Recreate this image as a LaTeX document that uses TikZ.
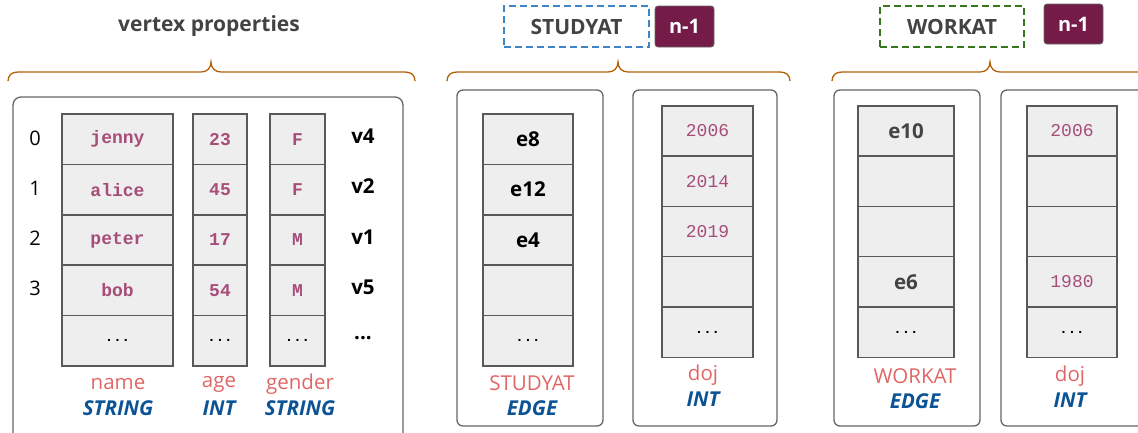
\documentclass[tikz,border=0pt]{standalone}
\usepackage{fontspec}
\setmainfont{Open Sans}
\setmonofont{Liberation Mono}
\definecolor{bracecol}{HTML}{B45F06}
\definecolor{boxline}{HTML}{666666}
\definecolor{cellline}{HTML}{595959}
\definecolor{cellfill}{HTML}{EEEEEE}
\definecolor{valcol}{HTML}{A64D79}
\definecolor{labcol}{HTML}{E06666}
\definecolor{typecol}{HTML}{0B5394}
\definecolor{headcol}{HTML}{434343}
\definecolor{ncol}{HTML}{741B47}
\definecolor{bluedash}{HTML}{3D85C6}
\definecolor{greendash}{HTML}{38761D}
\newcommand\mybrace[3]{%
  \draw[bracestyle] (#1,81) .. controls (#1,75) and (#1+4,72) .. (#1+10,72) -- (#2-10,72)
    .. controls (#2-4,72) and (#2,68) .. (#2,62)
    .. controls (#2,68) and (#2+4,72) .. (#2+10,72) -- (#3-10,72)
    .. controls (#3-4,72) and (#3,75) .. (#3,81);}
\newcommand\celldots{{\ttfamily\bfseries\fontsize{14}{14}\selectfont ...}}
\begin{document}
\begin{tikzpicture}[x=1pt,y=-1pt,
  bracestyle/.style={draw=bracecol, line width=1.3pt},
  outerbox/.style={draw=boxline, line width=1.3pt, rounded corners=6pt, inner sep=0pt},
  cell/.style={draw=cellline, fill=cellfill, line width=1.5pt, minimum height=50.4pt, inner sep=0pt},
  cellb/.style={cell, minimum height=50.3pt},
  val/.style={font=\fontsize{18}{20}\selectfont\ttfamily\bfseries, text=valcol},
  valr/.style={font=\fontsize{18}{20}\selectfont\ttfamily, text=valcol},
  idx/.style={font=\fontsize{20}{22}\selectfont, text=black},
  vid/.style={font=\fontsize{20.5}{22}\selectfont\bfseries, text=black},
  lab/.style={font=\fontsize{20.5}{22}\selectfont, text=labcol},
  typ/.style={font=\fontsize{20.5}{22}\selectfont\bfseries\itshape, text=typecol},
  head/.style={font=\fontsize{21}{22}\selectfont\bfseries, text=headcol},
  dashbox/.style={line width=1.3pt, dash pattern=on 7pt off 4pt, minimum width=145pt, minimum height=41pt, inner sep=0pt},
  nbox/.style={fill=ncol, draw=boxline, line width=0.8pt, rounded corners=3pt, minimum width=59pt, minimum height=41pt, inner sep=0pt, text=white, font=\fontsize{20}{22}\selectfont\bfseries},
]
\useasboundingbox (0,0) rectangle (1138,432);
\clip (0,0) rectangle (1138,432);

% ---------- vertex properties ----------
\node[head] (vhead) at (209,26) {vertex properties};
\mybrace{8}{211}{415}
\node[outerbox, rounded corners=8pt, minimum width=390pt, minimum height=348pt] (vbox) at (208,271) {};

\foreach \t [count=\i from 0] in {jenny,alice,peter,bob}
  \node[cell, minimum width=111pt, val] (name\i) at (117.5,{139.2+50.4*\i}) {\t};
\node[cell, minimum width=111pt] (name4) at (117.5,340.8) {\celldots};
\foreach \t [count=\i from 0] in {23,45,17,54}
  \node[cell, minimum width=54pt, val] (age\i) at (220,{139.2+50.4*\i}) {\t};
\node[cell, minimum width=54pt] (age4) at (220,340.8) {\celldots};
\foreach \t [count=\i from 0] in {F,F,M,M}
  \node[cell, minimum width=55pt, val] (gen\i) at (297.5,{139.2+50.4*\i}) {\t};
\node[cell, minimum width=55pt] (gen4) at (297.5,340.8) {\celldots};

\foreach \t [count=\i from 0] in {0,1,2,3}
  \node[idx] (ix\i) at (35,{138+50*\i}) {\t};
\foreach \t [count=\i from 0] in {v4,v2,v1,v5}
  \node[vid] (vid\i) at (363,{136+50.4*\i}) {\t};
\node[vid] (vid4) at (363,338) {...};

\node[lab] (lname) at (118,384) {name};
\node[typ] (tname) at (118,408) {STRING};
\node[lab] (lage) at (219,384) {age};
\node[typ] (tage) at (219,408) {INT};
\node[lab] (lgen) at (300,384) {gender};
\node[typ] (tgen) at (300,408) {STRING};

% ---------- STUDYAT ----------
\node[dashbox, draw=bluedash, head] (shead) at (576.5,26.5) {STUDYAT};
\node[nbox] (sn) at (684.5,26.5) {n-1};
\mybrace{447}{618}{790}
\node[outerbox, minimum width=146pt, minimum height=336pt] (sbox1) at (530,258) {};
\node[outerbox, minimum width=144pt, minimum height=336pt] (sbox2) at (705,258) {};

\foreach \t [count=\i from 0] in {e8,e12,e4,{}}
  \node[cell, minimum width=90pt, vid] (se\i) at (528,{139.2+50.4*\i}) {\t};
\node[cell, minimum width=90pt] (se4) at (528,340.8) {\celldots};
\foreach \t [count=\i from 0] in {2006,2014,2019,{}}
  \node[cellb, minimum width=91pt, valr] (sd\i) at (707.5,{130.9+50.3*\i}) {\t};
\node[cellb, minimum width=91pt] (sd4) at (707.5,332.1) {\celldots};

\node[lab] (lse) at (532,383) {STUDYAT};
\node[typ] (tse) at (532,408) {EDGE};
\node[lab] (lsd) at (703,375) {doj};
\node[typ] (tsd) at (703,399) {INT};

% ---------- WORKAT ----------
\node[dashbox, draw=greendash, head, minimum width=144pt] (whead) at (952,26.5) {WORKAT};
\node[nbox, minimum height=40pt] (wn) at (1073.5,24) {n-1};
\mybrace{832}{990}{1300}
\node[outerbox, minimum width=146pt, minimum height=336pt] (wbox1) at (907,258) {};
\node[outerbox, minimum width=149pt, minimum height=336pt] (wbox2) at (1075.5,258) {};

\foreach \t [count=\i from 0] in {e10,{},{},e6}
  \node[cellb, minimum width=96pt, vid, text=headcol] (we\i) at (906,{130.9+50.3*\i}) {\t};
\node[cellb, minimum width=96pt] (we4) at (906,332.1) {\celldots};
\foreach \t [count=\i from 0] in {2006,{},{},1980}
  \node[cellb, minimum width=90pt, valr] (wd\i) at (1072,{130.9+50.3*\i}) {\t};
\node[cellb, minimum width=90pt] (wd4) at (1072,332.1) {\celldots};

\node[lab] (lwe) at (915,376) {WORKAT};
\node[typ] (twe) at (915,401) {EDGE};
\node[lab] (lwd) at (1070,376) {doj};
\node[typ] (twd) at (1070,400) {INT};
\end{tikzpicture}
\end{document}
